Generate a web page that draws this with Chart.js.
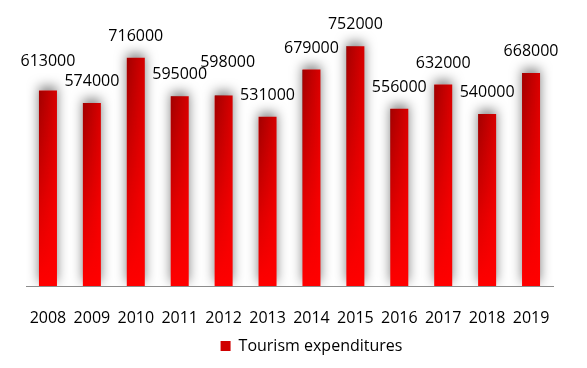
<!DOCTYPE html>
<html>
<head>
<meta charset="utf-8">
<script src="https://cdn.jsdelivr.net/npm/chart.js@4.4.1/dist/chart.umd.min.js"></script>
<style>
  html, body { margin: 0; padding: 0; background: #fff; }
</style>
</head>
<body>
<canvas id="chart" width="587" height="368"></canvas>
<script>
const years = ['2008', '2009', '2010', '2011', '2012', '2013', '2014', '2015', '2016', '2017', '2018', '2019'];
const expenditures = [613000, 574000, 716000, 595000, 598000, 531000, 679000, 752000, 556000, 632000, 540000, 668000];
const seriesName = 'Tourism expenditures';
const yMax = 800000;

const fontFamily = '"Open Sans", "Noto Sans", sans-serif';

// vertical red fill for each bar
function barFill(context) {
    const chart = context.chart;
    if (!chart.chartArea || !chart.scales.y) return '#e60000';
    const y = chart.scales.y;
    const top = y.getPixelForValue(context.raw);
    const bottom = y.getPixelForValue(0);
    const g = chart.ctx.createLinearGradient(0, top, 0, bottom);
    g.addColorStop(0, '#d80000');
    g.addColorStop(0.6, '#f60000');
    g.addColorStop(1, '#ff0000');
    return g;
}

// soft shadow behind bars + darker left side near the top
const barEffects = {
    id: 'barEffects',
    afterLayout(chart) {
        // legend sits a bit right of centre in the original
        chart.legend.left += 22;
        chart.legend.right += 22;
    },
    beforeDatasetsDraw(chart) {
        const ctx = chart.ctx;
        ctx.save();
        ctx.shadowColor = 'rgba(0,0,0,0.5)';
        ctx.shadowBlur = 12;
        ctx.shadowOffsetX = 0;
        ctx.shadowOffsetY = -4;
    },
    afterDatasetsDraw(chart) {
        const ctx = chart.ctx;
        ctx.restore();
        const meta = chart.getDatasetMeta(0);
        meta.data.forEach(el => {
            const p = el.getProps(['x', 'y', 'base', 'width'], true);
            const w = Math.round(p.width);
            const h = Math.round(p.base - p.y);
            if (w <= 0 || h <= 0) return;
            const oc = document.createElement('canvas');
            oc.width = w;
            oc.height = h;
            const o = oc.getContext('2d');
            const hg = o.createLinearGradient(0, 0, w, 0);
            hg.addColorStop(0, 'rgba(40,0,0,0.3)');
            hg.addColorStop(1, 'rgba(40,0,0,0)');
            o.fillStyle = hg;
            o.fillRect(0, 0, w, h);
            o.globalCompositeOperation = 'destination-in';
            const vg = o.createLinearGradient(0, 0, 0, h);
            vg.addColorStop(0, 'rgba(0,0,0,1)');
            vg.addColorStop(1, 'rgba(0,0,0,0)');
            o.fillStyle = vg;
            o.fillRect(0, 0, w, h);
            ctx.drawImage(oc, Math.round(p.x - p.width / 2), Math.round(p.y));
        });
    }
};

// value labels above the bars
const valueLabels = {
    id: 'valueLabels',
    afterDraw(chart) {
        const ctx = chart.ctx;
        const meta = chart.getDatasetMeta(0);
        const lift = { 0: 8, 4: 11 };
        const shift = { 4: 4 };
        ctx.save();
        ctx.font = '16px ' + fontFamily;
        ctx.fillStyle = '#000';
        ctx.textAlign = 'center';
        ctx.textBaseline = 'alphabetic';
        meta.data.forEach((el, i) => {
            const v = chart.data.datasets[0].data[i];
            ctx.fillText(String(v), el.x + (shift[i] || 0), el.y - 17 - (lift[i] || 0));
        });
        ctx.restore();
    }
};

new Chart(document.getElementById('chart'), {
    type: 'bar',
    data: {
        labels: years,
        datasets: [{
            label: seriesName,
            data: expenditures,
            backgroundColor: barFill,
            borderWidth: 0,
            categoryPercentage: 1,
            barPercentage: 0.41
        }]
    },
    options: {
        responsive: false,
        animation: false,
        devicePixelRatio: 1,
        layout: { padding: { top: 31, left: 26, right: 34, bottom: 4 } },
        scales: {
            x: {
                grid: { display: false, drawTicks: false, tickLength: 0 },
                border: { display: true, color: '#8c8c8c', width: 1 },
                ticks: {
                    color: '#000',
                    padding: 23,
                    maxRotation: 0,
                    minRotation: 0,
                    autoSkip: false,
                    font: { family: fontFamily, size: 16 }
                },
                afterFit(scale) {
                    scale.height = 44;
                }
            },
            y: {
                display: false,
                min: 0,
                max: yMax
            }
        },
        plugins: {
            tooltip: { enabled: false },
            legend: {
                position: 'bottom',
                labels: {
                    boxWidth: 10,
                    boxHeight: 10,
                    padding: 8,
                    color: '#000',
                    font: { family: fontFamily, size: 16 },
                    generateLabels(chart) {
                        return [{
                            text: seriesName,
                            fillStyle: '#d00000',
                            strokeStyle: '#d00000',
                            lineWidth: 0,
                            hidden: false,
                            datasetIndex: 0
                        }];
                    }
                }
            }
        }
    },
    plugins: [barEffects, valueLabels]
});
</script>
</body>
</html>
